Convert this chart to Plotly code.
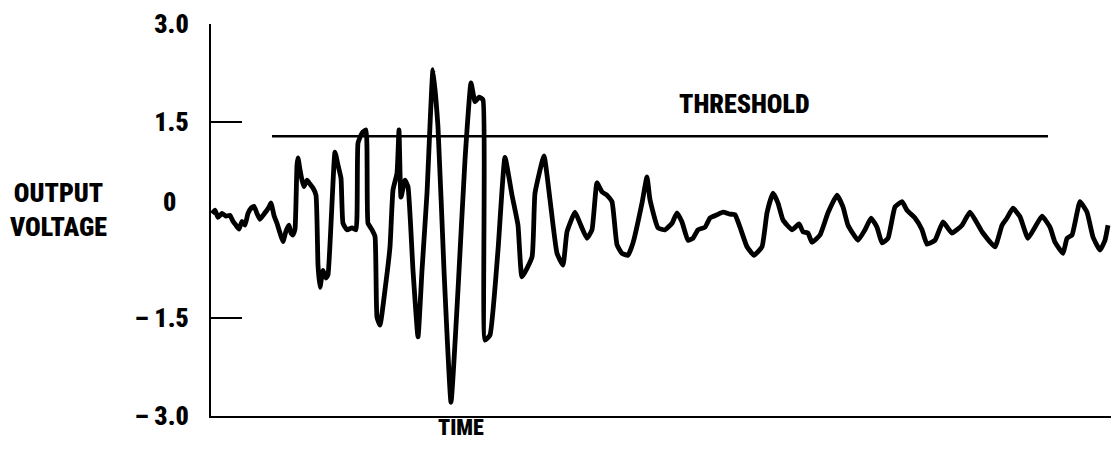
import plotly.graph_objects as go

# Time (arbitrary units) and output voltage
time = [1, 4, 7, 11, 15, 19, 22, 25, 28, 31, 34, 37, 40, 43, 46, 49, 52, 55, 58, 60,
        63, 66, 69, 72, 75, 78, 80, 82, 84, 86, 87, 89, 91, 93, 96, 99, 102, 105, 107, 109,
        112, 115, 117, 124, 127, 130, 132, 136, 141, 145, 147, 151, 155, 157, 161, 164, 166, 169, 174, 179,
        182, 186, 188, 190, 194, 197, 202, 207, 211, 216, 222, 227, 233, 240, 247, 254, 260, 264, 268, 272,
        274, 279, 287, 294, 301, 307, 311, 321, 324, 333, 339, 346, 352, 356, 364, 369, 376, 381, 386, 391,
        396, 401, 406, 411, 417, 422, 431, 436, 439, 447, 454, 461, 466, 471, 477, 482, 487, 494, 499, 506,
        512, 519, 524, 529, 536, 543, 551, 556, 562, 567, 572, 581, 588, 592, 597, 601, 609, 617, 626, 632,
        637, 647, 654, 660, 666, 671, 677, 684, 691, 696, 704, 711, 716, 724, 732, 741, 751, 759, 771, 784,
        791, 796, 802, 809, 817, 824, 831, 839, 844, 852, 856, 861, 869, 876, 882, 889, 894, 897]
voltage = [0.10, 0.15, 0.04, 0.10, 0.06, 0.07, -0.02, -0.08, -0.14, -0.02, -0.08, 0.10, 0.18, 0.21, 0.10, 0.01, 0.07, 0.13, 0.20, 0.26,
           0.07, -0.05, -0.20, -0.33, -0.17, -0.08, -0.20, -0.23, -0.14, 0.84, 0.95, 0.77, 0.61, 0.51, 0.61, 0.55, 0.49, 0.38, -0.69, -1.03,
           -0.77, -0.89, -0.84, 1.04, 0.84, 0.64, -0.05, -0.15, -0.12, -0.15, 1.18, 1.33, 1.38, -0.05, -0.15, -0.25, -1.49, -1.61, -1.07, -0.41,
           0.46, 0.72, 1.38, 0.35, 0.61, 0.51, -0.77, -1.79, -0.77, 0.41, 2.30, 1.42, -0.77, -2.79, -1.07, 0.92, 2.10, 1.81, 1.88, 1.84,
           -1.84, -1.76, -0.46, 0.96, 0.38, -0.08, -0.87, -0.57, 0.41, 0.98, 0.31, -0.51, -0.69, -0.18, 0.12, -0.05, -0.28, -0.15, 0.57, 0.43,
           0.38, 0.28, -0.38, -0.51, -0.54, -0.35, 0.26, 0.66, 0.31, -0.12, -0.15, -0.05, 0.11, -0.03, -0.31, -0.28, -0.15, -0.11, 0.03, 0.08,
           0.12, 0.09, 0.08, -0.11, -0.41, -0.54, -0.41, 0.11, 0.41, 0.26, 0.00, -0.15, -0.06, -0.18, -0.20, -0.34, -0.23, 0.11, 0.38, 0.20,
           -0.08, -0.31, -0.15, 0.03, -0.11, -0.35, -0.28, 0.20, 0.28, 0.15, 0.03, -0.15, -0.37, -0.31, -0.03, -0.20, -0.08, 0.12, -0.18, -0.41,
           -0.08, 0.03, 0.18, 0.05, -0.28, -0.11, 0.06, -0.11, -0.34, -0.51, -0.28, -0.23, 0.28, 0.12, -0.26, -0.46, -0.31, -0.08]

threshold_level = 1.28
threshold_span = [61, 837]

y_ticks = [3.0, 1.5, -1.5, -3.0]
y_tick_text = ["3.0", "1.5", "\u2013 1.5", "\u2013 3.0"]
zero_label = "0"

time_range = [0, 908]
volt_range = [-3.0, 3.0]

FONT = ("Roboto Condensed, Noto Sans Condensed, Liberation Sans Narrow, "
        "DejaVu Sans Condensed, Arial Narrow, Liberation Sans, sans-serif")
FS = 26
WEIGHT = 900

fig = go.Figure()
fig.add_trace(go.Scatter(
    x=threshold_span, y=[threshold_level, threshold_level], mode="lines",
    line=dict(color="black", width=2.5), hoverinfo="skip", showlegend=False))
fig.add_trace(go.Scatter(
    x=time, y=voltage, mode="lines",
    line=dict(color="black", width=4.8, shape="spline", smoothing=0.4),
    showlegend=False))

fnt = dict(family=FONT, size=FS, color="black", weight=WEIGHT)
fnt_small = dict(family=FONT, size=22, color="black", weight=WEIGHT)

# the page adds an 8px body margin, so the figure is sized to fit the window
fig.update_layout(
    width=1111, height=455,
    margin=dict(l=203, r=0, t=16, b=47),
    paper_bgcolor="white", plot_bgcolor="white",
    font=dict(family=FONT, color="black", size=FS),
    xaxis=dict(range=time_range, showline=True, linecolor="black", linewidth=2,
               showgrid=False, zeroline=False, showticklabels=False, ticks=""),
    yaxis=dict(range=volt_range, showline=True, linecolor="black", linewidth=2,
               showgrid=False, zeroline=False, tickvals=y_ticks, ticktext=y_tick_text,
               ticks="inside", ticklen=31, tickwidth=2, tickcolor="black",
               ticklabelstandoff=15, tickfont=fnt),
    annotations=[
        dict(text=zero_label, xref="paper", yref="y", x=-0.036, y=0.27,
             showarrow=False, font=fnt, xanchor="right", yanchor="middle"),
        dict(text="OUTPUT<br>VOLTAGE", xref="paper", yref="y", x=-0.168, y=0.16,
             showarrow=False, font=fnt,
             xanchor="center", yanchor="middle", align="center"),
        dict(text="THRESHOLD", xref="x", yref="y", x=533, y=1.78,
             showarrow=False, font=fnt, xanchor="center", yanchor="middle"),
        dict(text="TIME", xref="paper", yref="paper", x=0.275, y=-0.03,
             showarrow=False, font=fnt_small, xanchor="center", yanchor="middle"),
    ],
)

fig.write_html("out.html")
